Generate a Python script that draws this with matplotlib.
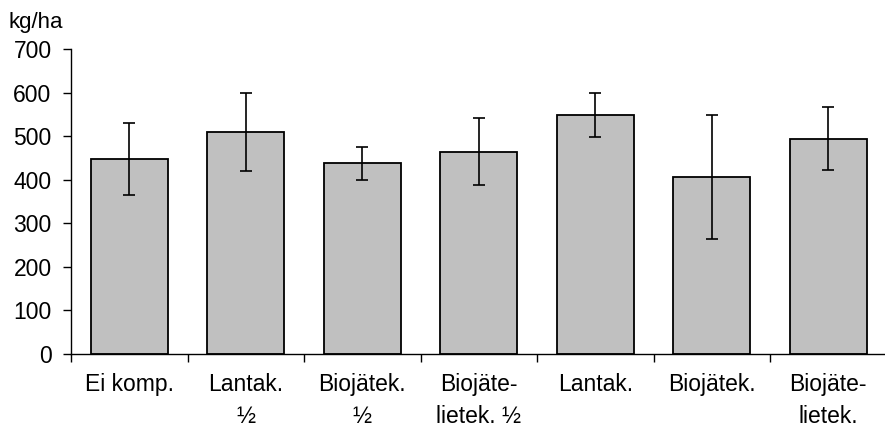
import numpy as np
import matplotlib.pyplot as plt

# Values (kg/ha)
categories = ['Ei komp.', 'Lantak.\n½', 'Biojätek.\n½', 'Biojäte-\nlietek. ½',
              'Lantak.', 'Biojätek.', 'Biojäte-\nlietek.']
means = [447, 509, 438, 464, 549, 406, 494]
errors = [83, 90, 38, 77, 50, 143, 72]
yticks = [0, 100, 200, 300, 400, 500, 600, 700]

plt.rcParams['font.family'] = ['Liberation Sans', 'DejaVu Sans']

fig = plt.figure(figsize=(8.85, 4.34), dpi=100)
ax = fig.add_axes([71 / 885, 80 / 434, 7 * 116.5 / 885, 305 / 434])

x = np.arange(len(categories))
ax.bar(x, means, width=0.66, color='#c0c0c0', edgecolor='black', linewidth=1.3,
       yerr=errors, error_kw=dict(ecolor='black', elinewidth=1.2, capsize=4.5, capthick=1.2),
       zorder=2)

ax.set_xlim(-0.5, len(categories) - 0.5)
ax.set_ylim(0, 700)
ax.set_yticks(yticks)
ax.tick_params(axis='y', direction='out', length=6, width=1, pad=8, labelsize=16.5)

# labels under the bars, tick marks between categories
ax.set_xticks(x)
ax.set_xticklabels(categories, fontsize=16.5, linespacing=1.5)
ax.tick_params(axis='x', which='major', length=0, pad=14)
ax.set_xticks(np.arange(len(categories)) - 0.5, minor=True)
ax.tick_params(axis='x', which='minor', direction='out', length=6, width=1)

for side in ['top', 'right']:
    ax.spines[side].set_visible(False)
ax.spines['left'].set_linewidth(1)
ax.spines['bottom'].set_linewidth(1)

fig.text(8 / 885, 1 - 28 / 434, 'kg/ha', fontsize=16, ha='left', va='baseline')

plt.savefig('out.png', dpi=100)
